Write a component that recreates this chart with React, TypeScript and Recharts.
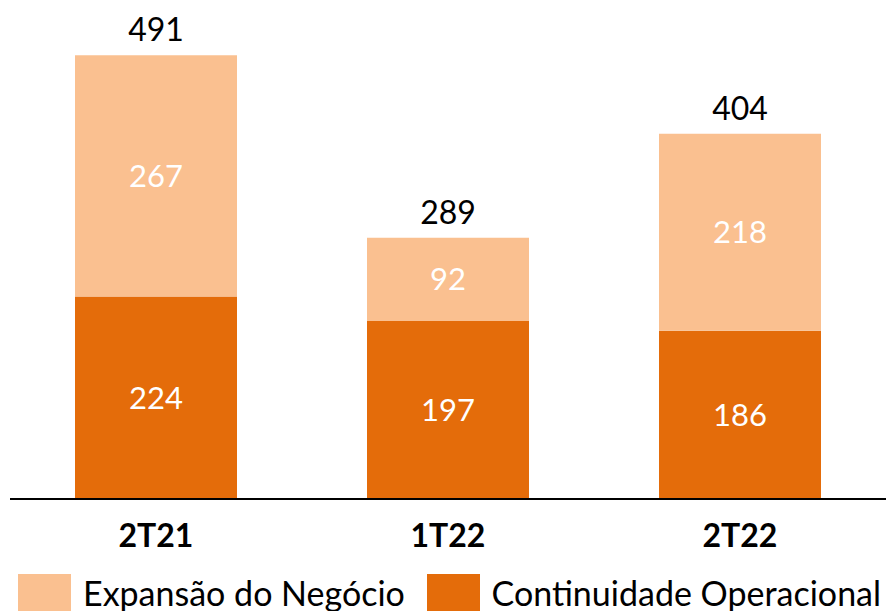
import { BarChart, Bar, XAxis, YAxis, LabelList, Legend } from 'recharts';

// categories and series
const quarters = ['2T21', '1T22', '2T22'];
const continuidade = [224, 197, 186];
const expansao = [267, 92, 218];
const totals = [491, 289, 404];

const LIGHT = '#FAC090';
const DARK = '#E46C0A';
const FONT = 'Lato, "Open Sans", sans-serif';

const data = quarters.map((q, i) => ({
  quarter: q,
  continuidade: continuidade[i],
  expansao: expansao[i],
  total: totals[i]
}));

const legendItems = [
  { label: 'Expansão do Negócio', color: LIGHT, width: 409 },
  { label: 'Continuidade Operacional', color: DARK, width: 460 }
];

function ChartLegend() {
  return (
    <div style={{ height: 40, display: 'flex', paddingLeft: 8, overflow: 'visible' }}>
      {legendItems.map((item) => (
        <div
          key={item.label}
          style={{ width: item.width, display: 'flex', alignItems: 'flex-start', paddingTop: 3 }}
        >
          <div style={{ width: 53, height: 53, background: item.color, flexShrink: 0 }} />
          <span
            style={{
              marginLeft: 12,
              fontFamily: FONT,
              fontSize: 34,
              lineHeight: '34px',
              marginTop: 2,
              color: '#000',
              whiteSpace: 'nowrap'
            }}
          >
            {item.label}
          </span>
        </div>
      ))}
    </div>
  );
}

export default function App() {
  return (
    <div style={{ position: 'absolute', left: 0, top: 0, width: 886, height: 611, overflow: 'hidden', background: '#fff' }}>
      <BarChart
        width={886}
        height={611}
        data={data}
        margin={{ top: 47, right: 0, left: 10, bottom: 0 }}
        barCategoryGap={65}
      >
        <XAxis
          dataKey="quarter"
          height={72}
          tickLine={false}
          tickSize={0}
          tickMargin={25}
          axisLine={{ stroke: '#000', strokeWidth: 2 }}
          tick={{ fill: '#000', fontSize: 32, fontWeight: 700, fontFamily: FONT }}
        />
        <YAxis hide domain={[0, 500]} />
        <Legend verticalAlign="bottom" content={() => <ChartLegend />} />
        <Bar dataKey="continuidade" stackId="a" fill={DARK} barSize={162} isAnimationActive={false}>
          <LabelList
            dataKey="continuidade"
            position="center"
            fill="#fff"
            style={{ fontSize: 31, fontFamily: FONT }}
          />
        </Bar>
        <Bar dataKey="expansao" stackId="a" fill={LIGHT} barSize={162} isAnimationActive={false}>
          <LabelList
            dataKey="expansao"
            position="center"
            fill="#fff"
            style={{ fontSize: 31, fontFamily: FONT }}
          />
          <LabelList
            dataKey="total"
            position="top"
            offset={14}
            fill="#000"
            style={{ fontSize: 32, fontFamily: FONT }}
          />
        </Bar>
      </BarChart>
    </div>
  );
}
